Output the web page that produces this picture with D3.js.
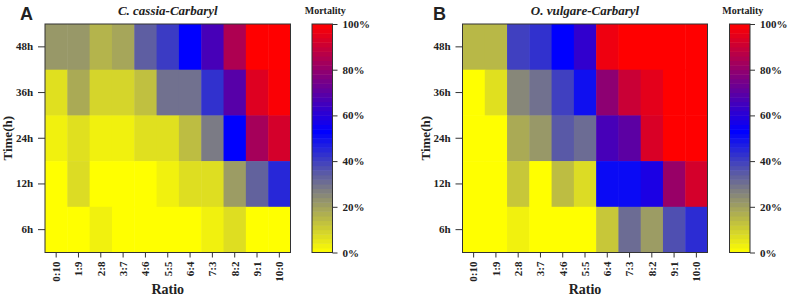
<!DOCTYPE html>
<html><head><meta charset="utf-8">
<script src="https://cdn.jsdelivr.net/npm/d3@7"></script>
<style>
body{margin:0;background:#fff;}
svg text{font-family:"Liberation Serif","Times New Roman",serif;font-weight:bold;fill:#222;}
</style></head>
<body><svg id="c" width="791" height="297"></svg>
<script>
const ratios = ["0:10","1:9","2:8","3:7","4:6","5:5","6:4","7:3","8:2","9:1","10:0"];
const times = ["48h","36h","24h","12h","6h"];
const legendTicks = [0,0.2,0.4,0.6,0.8,1.0];
// mortality (fraction), rows follow `times`, columns follow `ratios`
const mortalityA = [
  [0.22,0.22,0.16,0.19,0.34,0.41,0.53,0.66,0.85,1.00,1.00],
  [0.065,0.18,0.09,0.09,0.135,0.30,0.30,0.43,0.69,0.94,0.99],
  [0.03,0.065,0.03,0.03,0.065,0.065,0.14,0.28,0.53,0.835,0.92],
  [0.00,0.075,0.00,0.00,0.00,0.03,0.07,0.07,0.21,0.33,0.45],
  [0.00,0.00,0.03,0.00,0.00,0.00,0.00,0.03,0.07,0.00,0.00]
];
const mortalityB = [
  [0.15,0.15,0.40,0.43,0.53,0.62,0.97,1.00,1.00,1.00,1.00],
  [0.00,0.065,0.255,0.30,0.40,0.50,0.79,0.90,0.95,1.00,1.00],
  [0.00,0.00,0.18,0.22,0.35,0.31,0.66,0.70,0.93,1.00,1.00],
  [0.00,0.00,0.12,0.00,0.14,0.075,0.51,0.51,0.58,0.81,0.92],
  [0.00,0.00,0.03,0.00,0.00,0.00,0.12,0.31,0.21,0.37,0.44]
];
const titles = ["C. cassia-Carbaryl","O. vulgare-Carbaryl"];
const panelLetters = ["A","B"];

const color = d3.scaleLinear()
  .domain([0,0.27,0.53,1])
  .range(["#ffff00","#808080","#0000ff","#ff0000"])
  .interpolate(d3.interpolateRgb)
  .clamp(true);

const svg = d3.select("#c");
const panels = [
  {data: mortalityA, x0:45, x1:290.5, lx:312, letterX:20},
  {data: mortalityB, x0:462.5, x1:707.5, lx:729.5, letterX:433}
];
const plotTop = 24, plotBottom = 252.5;

panels.forEach((p,pi)=>{
  const g = svg.append("g");
  const x = d3.scaleBand().domain(ratios).range([p.x0,p.x1]);
  const y = d3.scaleBand().domain(times).range([plotTop,plotBottom]);
  const cells = [];
  p.data.forEach((row,ri)=>row.forEach((v,ci)=>cells.push({t:times[ri],r:ratios[ci],v})));
  g.selectAll("rect.cell").data(cells).enter().append("rect")
    .attr("x",d=>x(d.r)).attr("y",d=>y(d.t))
    .attr("width",x.bandwidth()+0.5).attr("height",y.bandwidth()+0.5)
    .attr("fill",d=>color(d.v));
  g.append("rect").attr("x",p.x0).attr("y",plotTop).attr("width",p.x1-p.x0).attr("height",plotBottom-plotTop)
    .attr("fill","none").attr("stroke","#333").attr("stroke-width",1);

  // y axis
  const ya = g.append("g").attr("transform",`translate(${p.x0},0)`)
    .call(d3.axisLeft(y).tickSize(7).tickPadding(5));
  ya.select(".domain").remove();
  ya.selectAll("line").attr("stroke","#333");
  ya.selectAll("text").style("font-size","11px").attr("fill","#222");
  // x axis
  const xa = g.append("g").attr("transform",`translate(0,${plotBottom})`)
    .call(d3.axisBottom(x).tickSize(5).tickPadding(0));
  xa.select(".domain").remove();
  xa.selectAll("line").attr("stroke","#333");
  xa.selectAll("text").style("font-size","11px").attr("fill","#222")
    .attr("transform","rotate(-90)").attr("text-anchor","end")
    .attr("x",-9).attr("y",0).attr("dy","0.35em");

  const cx = (p.x0+p.x1)/2;
  g.append("text").attr("x",cx).attr("y",294).attr("text-anchor","middle")
    .style("font-size","14px").text("Ratio");
  g.append("text").attr("transform",`translate(${p.x0-33},${(plotTop+plotBottom)/2}) rotate(-90)`)
    .attr("text-anchor","middle").style("font-size","13px").text("Time(h)");
  g.append("text").attr("x",cx).attr("y",15).attr("text-anchor","middle")
    .style("font-size","13px").style("font-style","italic").text(titles[pi]);
  g.append("text").attr("x",p.letterX).attr("y",20)
    .style("font-family","Liberation Sans, Arial, sans-serif").style("font-size","18px")
    .text(panelLetters[pi]);

  // legend
  const lw = 20.5;
  const ly = d3.scaleLinear().domain([0,1]).range([plotBottom,plotTop]);
  const steps = d3.range(50).map(i=>i/50);
  g.selectAll("rect.leg").data(steps).enter().append("rect")
    .attr("x",p.lx).attr("y",d=>ly(d+0.02)).attr("width",lw)
    .attr("height",d=>ly(d)-ly(d+0.02)+0.5)
    .attr("fill",d=>color(d+0.01));
  g.append("rect").attr("x",p.lx).attr("y",plotTop).attr("width",lw).attr("height",plotBottom-plotTop)
    .attr("fill","none").attr("stroke","#333").attr("stroke-width",1);
  const la = g.append("g").attr("transform",`translate(${p.lx+lw},0)`)
    .call(d3.axisRight(ly).tickValues(legendTicks).tickFormat(d3.format(".0%")).tickSize(5).tickPadding(5));
  la.select(".domain").remove();
  la.selectAll("line").attr("stroke","#333");
  la.selectAll("text").style("font-size","11px").attr("fill","#222");
  g.append("text").attr("x",p.lx+lw/2+3).attr("y",14).attr("text-anchor","middle")
    .style("font-size","10px").text("Mortality");
});
</script></body></html>
